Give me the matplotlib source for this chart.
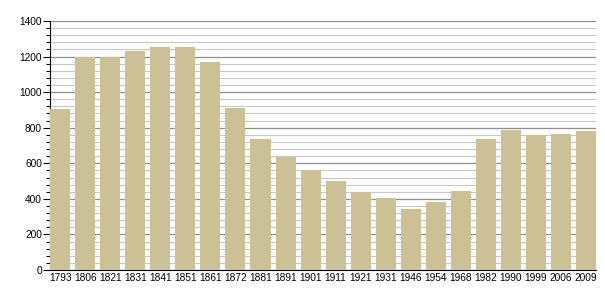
import numpy as np
import matplotlib.pyplot as plt
from matplotlib.ticker import MultipleLocator

# population by census year
years = ["1793", "1806", "1821", "1831", "1841", "1851", "1861", "1872",
         "1881", "1891", "1901", "1911", "1921", "1931", "1946", "1954",
         "1968", "1982", "1990", "1999", "2006", "2009"]
population = [905, 1200, 1196, 1230, 1254, 1253, 1168, 911,
              736, 637, 562, 500, 437, 403, 343, 384,
              444, 736, 787, 759, 765, 781]

plt.rcParams['font.family'] = ['Liberation Sans', 'DejaVu Sans']

fig = plt.figure(figsize=(6.05, 3.0), dpi=100)
ax = fig.add_axes([0.083, 0.1, 0.902, 0.83])

x = np.arange(len(years))
w = 0.8
ax.bar(x, population, width=w, color='#cbc096', zorder=3)

ax.set_xlim(-w / 2, len(years) - 1 + w / 2)
ax.set_ylim(0, 1400)
ax.set_xticks(x)
ax.set_xticklabels(years)

ax.yaxis.set_major_locator(MultipleLocator(200))
ax.yaxis.set_minor_locator(MultipleLocator(40))
ax.grid(which='major', axis='y', color='#8f8f8f', linewidth=0.9, zorder=1)
ax.grid(which='minor', axis='y', color='#c8c8c8', linewidth=0.8, zorder=1)
ax.grid(which='major', axis='x', visible=False)

for side in ('top', 'right'):
    ax.spines[side].set_visible(False)
ax.spines['left'].set_color('black')
ax.spines['bottom'].set_color('black')

ax.tick_params(axis='y', which='major', length=5, width=0.8, pad=1, labelsize=7.3)
ax.tick_params(axis='y', which='minor', length=3, width=0.8)
ax.tick_params(axis='x', length=0, pad=2, labelsize=7.3)

fig.savefig('out.png', dpi=100)
